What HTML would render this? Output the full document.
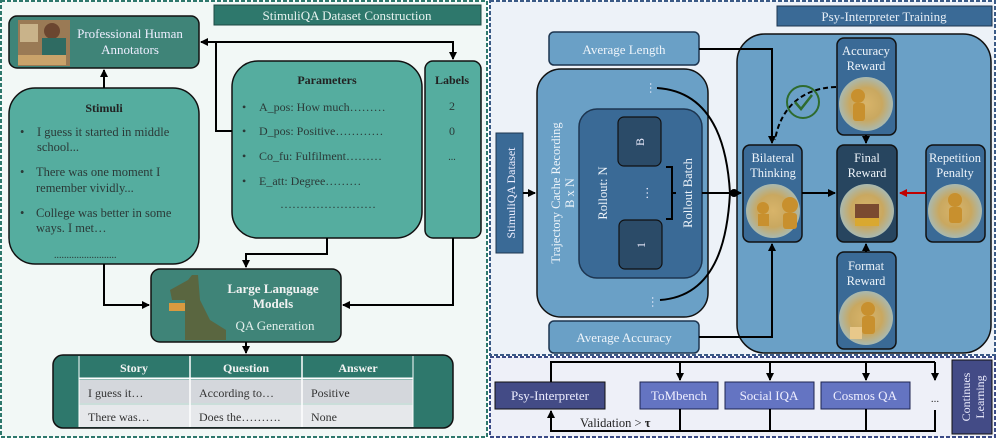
<!DOCTYPE html>
<html><head><meta charset="utf-8"><style>
html,body{margin:0;padding:0;background:#fff;}
svg{display:block;}
text{font-family:"Liberation Serif",serif;}
</style></head><body>
<svg width="997" height="439" viewBox="0 0 997 439" xmlns="http://www.w3.org/2000/svg">
<defs>
<marker id="a" markerWidth="8" markerHeight="8" refX="7" refY="4" orient="auto" markerUnits="userSpaceOnUse"><path d="M0,0 L8,4 L0,8 z" fill="#000"/></marker>
<marker id="r" markerWidth="8" markerHeight="8" refX="7" refY="4" orient="auto" markerUnits="userSpaceOnUse"><path d="M0,0 L8,4 L0,8 z" fill="#c00000"/></marker>
<radialGradient id="g1"><stop offset="0" stop-color="#d8b46a"/><stop offset="0.6" stop-color="#c9a860"/><stop offset="1" stop-color="#a9b9b0"/></radialGradient>
</defs>
<!-- LEFT PANEL -->
<rect x="1" y="1" width="486" height="436" fill="#f2f8f6" stroke="#2e786c" stroke-width="2" stroke-dasharray="4,2"/>
<rect x="214" y="5" width="267" height="20" fill="#2e786c" stroke="#1d4a44" stroke-width="1"/>
<text x="347" y="20" font-size="13" fill="#e6f2ef" text-anchor="middle">StimuliQA Dataset Construction</text>
<!-- annotators -->
<rect x="9" y="16" width="190" height="52" rx="8" fill="#3f8478" stroke="#111" stroke-width="1.5"/>
<rect x="18" y="20" width="52" height="46" fill="#9a7a55"/>
<rect x="20" y="24" width="18" height="18" fill="#c9b38a"/>
<circle cx="52" cy="31" r="8" fill="#6b4630"/>
<rect x="42" y="38" width="24" height="24" fill="#2f6b62"/>
<rect x="18" y="55" width="48" height="10" fill="#caa36a"/>
<text x="130" y="38" font-size="13" fill="#eef" text-anchor="middle">Professional Human</text>
<text x="130" y="54" font-size="13" fill="#eef" text-anchor="middle">Annotators</text>
<!-- stimuli -->
<rect x="9" y="88" width="190" height="176" rx="26" fill="#55ad9f" stroke="#111" stroke-width="1.5"/>
<text x="104" y="112" font-size="12" font-weight="bold" fill="#222" text-anchor="middle">Stimuli</text>
<g font-size="12.5" fill="#2b3a38">
<text x="20" y="136">•</text><text x="37" y="136">I guess it started in middle</text><text x="37" y="151">school...</text>
<text x="20" y="176">•</text><text x="36" y="176">There was one moment I</text><text x="36" y="192">remember vividly...</text>
<text x="20" y="217">•</text><text x="36" y="217">College was better in some</text><text x="36" y="232">ways. I met…</text>
<text x="54" y="258" font-size="10">.........................</text>
</g>
<!-- parameters -->
<rect x="232" y="61" width="190" height="177" rx="26" fill="#55ad9f" stroke="#111" stroke-width="1.5"/>
<text x="327" y="84" font-size="12" font-weight="bold" fill="#222" text-anchor="middle">Parameters</text>
<g font-size="12" fill="#2b3a38">
<text x="242" y="111">•</text><text x="259" y="111">A_pos: How much………</text>
<text x="242" y="135">•</text><text x="259" y="135">D_pos: Positive…………</text>
<text x="242" y="160">•</text><text x="259" y="160">Co_fu: Fulfilment………</text>
<text x="242" y="185">•</text><text x="259" y="185">E_att: Degree………</text>
<text x="280" y="208">……………………</text>
</g>
<rect x="425" y="61" width="56" height="177" rx="8" fill="#55ad9f" stroke="#111" stroke-width="1.5"/>
<text x="452" y="84" font-size="12" font-weight="bold" fill="#222" text-anchor="middle">Labels</text>
<text x="452" y="110" font-size="12" fill="#2b3a38" text-anchor="middle">2</text>
<text x="452" y="135" font-size="12" fill="#2b3a38" text-anchor="middle">0</text>
<text x="452" y="160" font-size="10" fill="#2b3a38" text-anchor="middle">...</text>
<!-- LLM -->
<rect x="151" y="269" width="190" height="73" rx="9" fill="#3f8478" stroke="#111" stroke-width="1.5"/>
<path d="M185,340 L185,300 L172,300 L170,290 L188,280 L192,275 L198,275 L200,300 L210,320 L226,330 L226,340 z" fill="#5a6640"/>
<rect x="169" y="303" width="16" height="8" fill="#d99a40"/>
<text x="273" y="293" font-size="13" font-weight="bold" fill="#f2f2f2" text-anchor="middle">Large Language</text>
<text x="273" y="308" font-size="13" font-weight="bold" fill="#f2f2f2" text-anchor="middle">Models</text>
<text x="275" y="330" font-size="13" fill="#e2efec" text-anchor="middle">QA Generation</text>
<!-- table -->
<rect x="53" y="355" width="400" height="73" rx="10" fill="#2e786c" stroke="#111" stroke-width="1.5"/>
<rect x="79" y="356" width="334" height="21" fill="#2e786c"/>
<rect x="79" y="380" width="334" height="23" fill="#d4d7dc"/>
<rect x="79" y="405" width="334" height="22" fill="#e6e8eb"/>
<line x1="79" y1="378.5" x2="413" y2="378.5" stroke="#fff" stroke-width="2"/>
<line x1="79" y1="404" x2="413" y2="404" stroke="#fff" stroke-width="1.5"/>
<line x1="190" y1="356" x2="190" y2="427" stroke="#fff" stroke-width="1.5"/>
<line x1="302" y1="356" x2="302" y2="427" stroke="#fff" stroke-width="1.5"/>
<line x1="79" y1="356" x2="79" y2="427" stroke="#fff" stroke-width="1"/>
<line x1="413" y1="356" x2="413" y2="427" stroke="#fff" stroke-width="1"/>
<g font-size="12" font-weight="bold" fill="#f4f4f4" text-anchor="middle"><text x="134" y="372">Story</text><text x="246" y="372">Question</text><text x="358" y="372">Answer</text></g>
<g font-size="12" fill="#333"><text x="88" y="397">I guess it…</text><text x="199" y="397">According to…</text><text x="311" y="397">Positive</text>
<text x="88" y="421">There was…</text><text x="199" y="421">Does the……….</text><text x="311" y="421">None</text></g>
<!-- left connectors -->
<g stroke="#000" stroke-width="2" fill="none">
<line x1="104" y1="88" x2="104" y2="70" marker-end="url(#a)"/>
<polyline points="232,131 216,131 216,42 201,42" marker-end="url(#a)"/>
<polyline points="216,42 453,42 453,59" marker-end="url(#a)"/>
<polyline points="327,238 327,254 246,254 246,267" marker-end="url(#a)"/>
<polyline points="104,264 104,305 149,305" marker-end="url(#a)"/>
<polyline points="453,238 453,305 343,305" marker-end="url(#a)"/>
<line x1="246" y1="342" x2="246" y2="353" marker-end="url(#a)"/>
</g>
<!-- RIGHT PANEL -->
<rect x="490" y="1" width="505" height="354" fill="#edf2f8" stroke="#3a5a86" stroke-width="2" stroke-dasharray="4,2"/>
<rect x="777" y="6" width="215" height="20" fill="#3a6a96" stroke="#1d3550" stroke-width="1"/>
<text x="884" y="21" font-size="13" fill="#e6eef6" text-anchor="middle">Psy-Interpreter Training</text>
<rect x="496" y="133" width="27" height="120" fill="#3a6a96" stroke="#1d3550"/>
<text transform="translate(515,193) rotate(-90)" font-size="12" fill="#eef" text-anchor="middle">StimuliQA Dataset</text>
<rect x="549" y="32" width="150" height="33" rx="5" fill="#6aa0c6" stroke="#1d3550" stroke-width="1.5"/>
<text x="624" y="54" font-size="13" fill="#eef4fa" text-anchor="middle">Average Length</text>
<rect x="537" y="69" width="171" height="248" rx="24" fill="#6aa0c6" stroke="#111" stroke-width="1.5"/>
<text transform="translate(560,193) rotate(-90)" font-size="12.5" fill="#eef4fa" text-anchor="middle">Trajectory Cache Recording</text>
<text transform="translate(574,193) rotate(-90)" font-size="12.5" fill="#eef4fa" text-anchor="middle">B x N</text>
<rect x="579" y="109" width="123" height="169" rx="18" fill="#3a6a96" stroke="#1d3550" stroke-width="1.5"/>
<text transform="translate(607,193) rotate(-90)" font-size="12.5" fill="#eef4fa" text-anchor="middle">Rollout: N</text>
<rect x="618" y="117" width="43" height="49" rx="6" fill="#2b4b68" stroke="#111" stroke-width="1.2"/>
<text transform="translate(644,142) rotate(-90)" font-size="12" fill="#eef" text-anchor="middle">B</text>
<rect x="619" y="220" width="43" height="49" rx="6" fill="#2b4b68" stroke="#111" stroke-width="1.2"/>
<text transform="translate(645,245) rotate(-90)" font-size="12" fill="#eef" text-anchor="middle">1</text>
<text transform="translate(648,193) rotate(-90)" font-size="13" fill="#eef" text-anchor="middle">…</text>
<path d="M666,167 L672,167 L672,219 L666,219 M672,193 L676,193" stroke="#000" stroke-width="2" fill="none"/>
<text transform="translate(692,193) rotate(-90)" font-size="12.5" fill="#eef4fa" text-anchor="middle">Rollout Batch</text>
<text transform="translate(650,88) rotate(90)" font-size="12" fill="#eef" text-anchor="middle">…</text>
<text transform="translate(652,302) rotate(90)" font-size="12" fill="#eef" text-anchor="middle">…</text>
<rect x="549" y="321" width="150" height="32" rx="5" fill="#6aa0c6" stroke="#1d3550" stroke-width="1.5"/>
<text x="624" y="342" font-size="13" fill="#eef4fa" text-anchor="middle">Average Accuracy</text>
<!-- big right box -->
<rect x="737" y="34" width="254" height="319" rx="28" fill="#6aa0c6" stroke="#111" stroke-width="1.5"/>
<g stroke="#111" stroke-width="1.5">
<rect x="837" y="38" width="59" height="97" rx="7" fill="#3a6a96"/>
<rect x="743" y="145" width="59" height="97" rx="7" fill="#3a6a96"/>
<rect x="837" y="145" width="60" height="97" rx="7" fill="#27455f"/>
<rect x="926" y="145" width="59" height="97" rx="7" fill="#3a6a96"/>
<rect x="837" y="252" width="59" height="97" rx="7" fill="#3a6a96"/>
</g>
<g font-size="12.5" fill="#eef4fa" text-anchor="middle">
<text x="866" y="55">Accuracy</text><text x="866" y="70">Reward</text>
<text x="773" y="162">Bilateral</text><text x="773" y="177">Thinking</text>
<text x="867" y="162">Final</text><text x="867" y="177">Reward</text>
<text x="955" y="162">Repetition</text><text x="955" y="177">Penalty</text>
<text x="866" y="270">Format</text><text x="866" y="285">Reward</text>
</g>
<g fill="url(#g1)"><circle cx="866" cy="104" r="27"/><circle cx="773" cy="211" r="27"/><circle cx="867" cy="211" r="27"/><circle cx="955" cy="211" r="27"/><circle cx="866" cy="318" r="27"/></g>
<g fill="#c8902e"><circle cx="858" cy="96" r="7"/><rect x="853" y="103" width="12" height="18" rx="3"/><circle cx="790" cy="205" r="8"/><rect x="783" y="213" width="14" height="16" rx="3"/><circle cx="763" cy="208" r="6"/><rect x="758" y="214" width="11" height="12"/><rect x="855" y="204" width="24" height="18" fill="#7a4a30"/><rect x="855" y="218" width="24" height="8" fill="#d9a830"/><circle cx="955" cy="200" r="7"/><rect x="949" y="207" width="13" height="16" rx="3"/><circle cx="868" cy="309" r="7"/><rect x="862" y="316" width="13" height="18" rx="3"/><rect x="850" y="327" width="12" height="12" fill="#e8c88a"/></g>
<!-- right connectors -->
<g stroke="#000" stroke-width="2" fill="none">
<line x1="523" y1="193" x2="535" y2="193" marker-end="url(#a)"/>
<polyline points="699,49 772,49 772,143" marker-end="url(#a)"/>
<polyline points="699,337 772,337 772,244" marker-end="url(#a)"/>
<path d="M657,88 C720,92 728,160 730,193"/>
<path d="M660,300 C720,296 728,230 730,193"/>
<line x1="702" y1="193" x2="741" y2="193" marker-end="url(#a)"/>
<line x1="802" y1="193" x2="835" y2="193" marker-end="url(#a)"/>
<line x1="866" y1="135" x2="866" y2="143" marker-end="url(#a)"/>
<line x1="866" y1="252" x2="866" y2="244" marker-end="url(#a)"/>
<path d="M836,87 C800,88 780,110 775,140" stroke-dasharray="5,3"/>
</g>
<circle cx="734" cy="193" r="4" fill="#000"/>
<line x1="926" y1="193" x2="900" y2="193" stroke="#c00000" stroke-width="2" marker-end="url(#r)"/>
<circle cx="803" cy="102" r="16" fill="none" stroke="#2e6b2e" stroke-width="2"/>
<path d="M795,102 L801,109 L812,95" stroke="#2e6b2e" stroke-width="2.5" fill="none"/>
<!-- BOTTOM PANEL -->
<rect x="490" y="357" width="505" height="80" fill="#eef0f8" stroke="#3a4a86" stroke-width="2" stroke-dasharray="4,2"/>
<rect x="495" y="382" width="110" height="27" fill="#434b86" stroke="#111"/>
<text x="550" y="400" font-size="13" fill="#eef" text-anchor="middle">Psy-Interpreter</text>
<g fill="#6474c2" stroke="#1d2550"><rect x="640" y="382" width="78" height="27"/><rect x="725" y="382" width="89" height="27"/><rect x="821" y="382" width="89" height="27"/></g>
<g font-size="13" fill="#eef" text-anchor="middle"><text x="679" y="400">ToMbench</text><text x="769" y="400">Social IQA</text><text x="865" y="400">Cosmos QA</text></g>
<text x="935" y="402" font-size="11" fill="#333" text-anchor="middle">...</text>
<rect x="952" y="360" width="40" height="74" fill="#434b86" stroke="#111"/>
<text transform="translate(970,397) rotate(-90)" font-size="12" fill="#eef" text-anchor="middle">Continues</text>
<text transform="translate(984,397) rotate(-90)" font-size="12" fill="#eef" text-anchor="middle">Learning</text>
<g stroke="#000" stroke-width="2" fill="none">
<polyline points="551,382 551,362 935,362"/>
<line x1="680" y1="362" x2="680" y2="380" marker-end="url(#a)"/>
<line x1="770" y1="362" x2="770" y2="380" marker-end="url(#a)"/>
<line x1="866" y1="362" x2="866" y2="380" marker-end="url(#a)"/>
<line x1="935" y1="362" x2="935" y2="380" marker-end="url(#a)"/>
<polyline points="935,410 935,431 551,431 551,411" marker-end="url(#a)"/>
<line x1="680" y1="409" x2="680" y2="431"/><line x1="770" y1="409" x2="770" y2="431"/><line x1="866" y1="409" x2="866" y2="431"/>
</g>
<text x="580" y="427" font-size="12.5" fill="#222">Validation &gt; <tspan font-weight="bold">τ</tspan></text>
</svg>
</body></html>
